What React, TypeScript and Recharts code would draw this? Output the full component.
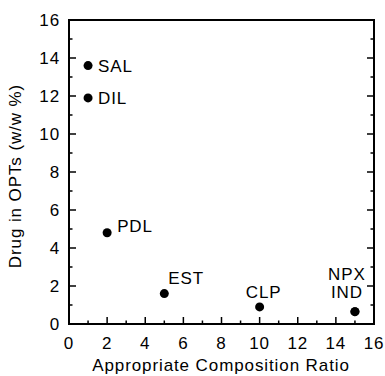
import React from 'react';
import { ScatterChart, Scatter, XAxis, YAxis } from 'recharts';

// ---- data ----
const drugNames = ['SAL', 'DIL', 'PDL', 'EST', 'CLP', 'NPX', 'IND'];
const compositionRatio = [1, 1, 2, 5, 10, 15, 15];
const drugLoading = [13.6, 11.9, 4.8, 1.6, 0.9, 0.65, 0.65];
const axisTicks = [0, 1, 2, 3, 4, 5, 6, 7, 8, 9, 10, 11, 12, 13, 14, 15, 16];
const xTitle = 'Appropriate Composition Ratio';
const yTitle = 'Drug in OPTs (w/w %)';

// label placement (style config, not data)
const labelPlacement: Record<string, { dx: number; dy: number; anchor: 'start' | 'middle' | 'end' }> = {
  SAL: { dx: 10, dy: 6, anchor: 'start' },
  DIL: { dx: 10, dy: 6, anchor: 'start' },
  PDL: { dx: 10, dy: -1, anchor: 'start' },
  EST: { dx: 4, dy: -10, anchor: 'start' },
  CLP: { dx: 4, dy: -9, anchor: 'middle' },
  NPX: { dx: -8, dy: -32, anchor: 'middle' },
  IND: { dx: -8, dy: -14, anchor: 'middle' },
};

const data = drugNames.map((name, i) => ({ name, x: compositionRatio[i], y: drugLoading[i] }));

const FONT = '"Liberation Sans", Arial, Helvetica, sans-serif';
const FS = 17;
const LS = 0.9;
const MAJOR = 7;
const MINOR = 3.5;

const isMajor = (v: number) => v % 2 === 0;

const BottomTick = (props: any) => {
  const { x, y, payload } = props;
  const v = payload.value;
  const len = isMajor(v) ? MAJOR : MINOR;
  return (
    <g>
      <line x1={x} y1={y} x2={x} y2={y - len} stroke="#000" strokeWidth={1.5} />
      {isMajor(v) && (
        <text x={x} y={y + 25} textAnchor="middle" fontFamily={FONT} fontSize={FS} letterSpacing={LS} fill="#000">
          {v}
        </text>
      )}
    </g>
  );
};

const TopTick = (props: any) => {
  const { x, y, payload } = props;
  const v = payload.value;
  const len = isMajor(v) ? MAJOR : MINOR;
  return <line x1={x} y1={y} x2={x} y2={y + len} stroke="#000" strokeWidth={1.5} />;
};

const LeftTick = (props: any) => {
  const { x, y, payload } = props;
  const v = payload.value;
  const len = isMajor(v) ? MAJOR : MINOR;
  return (
    <g>
      <line x1={x} y1={y} x2={x + len} y2={y} stroke="#000" strokeWidth={1.5} />
      {isMajor(v) && (
        <text x={x - 9} y={y + 6} textAnchor="end" fontFamily={FONT} fontSize={FS} letterSpacing={LS} fill="#000">
          {v}
        </text>
      )}
    </g>
  );
};

const RightTick = (props: any) => {
  const { x, y, payload } = props;
  const v = payload.value;
  const len = isMajor(v) ? MAJOR : MINOR;
  return <line x1={x} y1={y} x2={x - len} y2={y} stroke="#000" strokeWidth={1.5} />;
};

const DotShape = (props: any) => {
  const { cx, cy, payload } = props;
  const p = labelPlacement[payload.name];
  return (
    <g>
      <circle cx={cx} cy={cy} r={4.5} fill="#000" />
      <text
        x={cx + p.dx}
        y={cy + p.dy}
        textAnchor={p.anchor}
        fontFamily={FONT}
        fontSize={FS}
        letterSpacing={LS}
        fill="#000"
      >
        {payload.name}
      </text>
    </g>
  );
};

const axisLine = { stroke: '#000', strokeWidth: 2, strokeLinecap: 'square' as const };

export default function App() {
  return (
    <div style={{ position: 'absolute', left: 0, top: 0, width: 385, height: 376, background: '#fff' }}>
      <ScatterChart width={385} height={376} margin={{ top: 0, right: 0, bottom: 0, left: 0 }}>
        <XAxis
          xAxisId={0}
          dataKey="x"
          type="number"
          domain={[0, 16]}
          ticks={axisTicks}
          interval={0}
          orientation="bottom"
          height={52}
          tickSize={0}
          tickMargin={0}
          tickLine={false}
          axisLine={axisLine}
          tick={<BottomTick />}
          allowDataOverflow
        />
        <XAxis
          xAxisId="top"
          type="number"
          domain={[0, 16]}
          ticks={axisTicks}
          interval={0}
          orientation="top"
          height={20}
          tickSize={0}
          tickMargin={0}
          tickLine={false}
          axisLine={axisLine}
          tick={<TopTick />}
          allowDataOverflow
        />
        <YAxis
          yAxisId={0}
          dataKey="y"
          type="number"
          domain={[0, 16]}
          ticks={axisTicks}
          interval={0}
          orientation="left"
          width={69}
          tickSize={0}
          tickMargin={0}
          tickLine={false}
          axisLine={axisLine}
          tick={<LeftTick />}
          allowDataOverflow
        />
        <YAxis
          yAxisId="right"
          type="number"
          domain={[0, 16]}
          ticks={axisTicks}
          interval={0}
          orientation="right"
          width={11}
          tickSize={0}
          tickMargin={0}
          tickLine={false}
          axisLine={axisLine}
          tick={<RightTick />}
          allowDataOverflow
        />
        <Scatter data={data} xAxisId={0} yAxisId={0} fill="#000" shape={<DotShape />} isAnimationActive={false} />
        <text x={221} y={371} textAnchor="middle" fontFamily={FONT} fontSize={FS} letterSpacing={LS} fill="#000">
          {xTitle}
        </text>
        <text
          x={21}
          y={176}
          transform="rotate(-90 21 176)"
          textAnchor="middle"
          fontFamily={FONT}
          fontSize={FS}
          letterSpacing={LS}
          fill="#000"
        >
          {yTitle}
        </text>
      </ScatterChart>
    </div>
  );
}
